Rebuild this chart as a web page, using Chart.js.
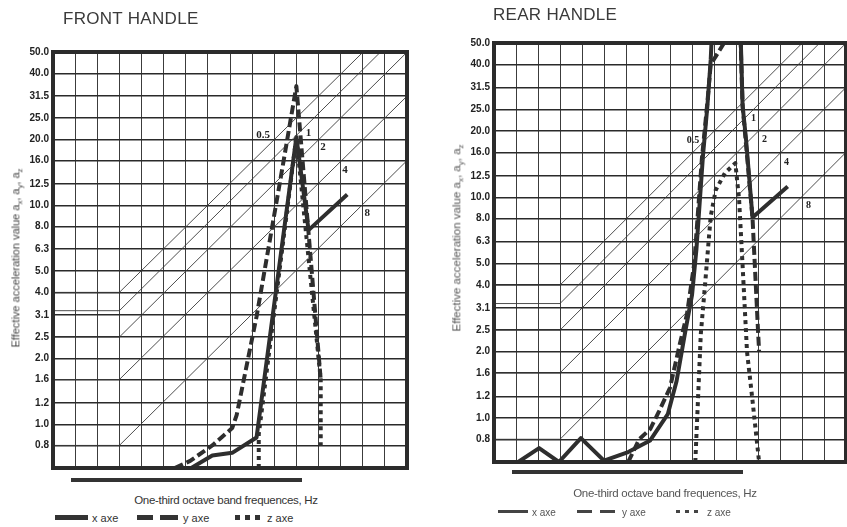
<!DOCTYPE html>
<html><head><meta charset="utf-8">
<script src="https://cdn.jsdelivr.net/npm/chart.js@4.4.0/dist/chart.umd.min.js"></script>
<style>
body{margin:0;background:#fff;}
#wrap{position:relative;width:847px;height:527px;overflow:hidden;font-family:"Liberation Sans",Arial,sans-serif;}
.abs{position:absolute;white-space:nowrap;}
.title{font-size:17px;color:#3a3a3a;letter-spacing:0.3px;}
.ytitle{transform:translate(-50%,-50%) rotate(-90deg);color:#444;}
.xtitle{transform:translate(-50%,-50%);color:#333;}
.bar{background:#333;}
.leg{font-size:11px;color:#333;transform:translateY(-50%);}
sub{font-size:70%;}
</style></head><body>
<div id="wrap">
  <canvas id="front" width="420" height="478" style="position:absolute;left:0;top:0"></canvas>
  <canvas id="rear" width="407" height="472" style="position:absolute;left:440px;top:0"></canvas>

  <div class="abs title" style="left:63px;top:9px;">FRONT HANDLE</div>
  <div class="abs title" style="left:493px;top:5px;">REAR HANDLE</div>

  <div class="abs ytitle" style="left:17px;top:258px;font-size:11px;">Effective acceleration value a<sub>x</sub>, a<sub>y</sub>, a<sub>z</sub></div>
  <div class="abs ytitle" style="left:458px;top:238px;font-size:11.5px;color:#555;">Effective acceleration value a<sub>x</sub>, a<sub>y</sub>, a<sub>z</sub></div>

  <div class="abs bar" style="left:71px;top:478px;width:231px;height:4px;"></div>
  <div class="abs bar" style="left:512px;top:470px;width:231px;height:4px;"></div>

  <div class="abs xtitle" style="left:226px;top:500px;font-size:11.5px;letter-spacing:-0.3px;">One-third octave band frequences, Hz</div>
  <div class="abs xtitle" style="left:665px;top:493px;font-size:11.5px;letter-spacing:-0.3px;color:#555;">One-third octave band frequences, Hz</div>

  <div class="abs bar" style="left:55px;top:515px;width:33px;height:5px;"></div>
  <div class="abs leg" style="left:92px;top:518px;">x axe</div>
  <div class="abs bar" style="left:137px;top:515px;width:16px;height:5px;"></div>
  <div class="abs bar" style="left:160px;top:515px;width:18px;height:5px;"></div>
  <div class="abs leg" style="left:183px;top:518px;">y axe</div>
  <div class="abs bar" style="left:235px;top:515px;width:5px;height:5px;"></div>
  <div class="abs bar" style="left:245px;top:515px;width:5px;height:5px;"></div>
  <div class="abs bar" style="left:255px;top:515px;width:5px;height:5px;"></div>
  <div class="abs leg" style="left:267px;top:518px;">z axe</div>

  <div class="abs bar" style="left:498px;top:510px;width:30px;height:3px;background:#444"></div>
  <div class="abs leg" style="left:532px;top:512px;font-size:10px;color:#555;">x axe</div>
  <div class="abs bar" style="left:577px;top:510px;width:15px;height:3px;background:#444"></div>
  <div class="abs bar" style="left:600px;top:510px;width:15px;height:3px;background:#444"></div>
  <div class="abs leg" style="left:622px;top:512px;font-size:10px;color:#555;">y axe</div>
  <div class="abs bar" style="left:676px;top:510px;width:4px;height:3px;background:#444"></div>
  <div class="abs bar" style="left:685px;top:510px;width:4px;height:3px;background:#444"></div>
  <div class="abs bar" style="left:694px;top:510px;width:4px;height:3px;background:#444"></div>
  <div class="abs leg" style="left:707px;top:512px;font-size:10px;color:#555;">z axe</div>
</div>
<script>
// ---------- axes ----------
const bandMin = 0, bandMax = 16;          // one-third octave band index range
const yMin = 0.631, yMax = 50.1;
const yTickValues = [0.8, 1.0, 1.25, 1.6, 2.0, 2.5, 3.15, 4.0, 5.0, 6.3, 8.0, 10, 12.5, 16, 20, 25, 31.5, 40, 50];
const yTickLabels = ["0.8","1.0","1.2","1.6","2.0","2.5","3.1","4.0","5.0","6.3","8.0","10.0","12.5","16.0","20.0","25.0","31.5","40.0","50.0"];

// ---------- reference lines ----------
const diagNames       = ["0.5", "1", "2", "4", "8"];
const diagStartBand   = 3;
const diagStartValues = [4.0, 3.3, 2.5, 1.6, 0.8];
const diagEndValues   = [79, 66, 50, 31.5, 16];   // value at last band

const frontLabelBands  = [9.5, 11.55, 12.2, 13.2, 14.2];
const frontLabelValues = [20.9, 21.4, 18.5, 14.4, 9.2];
const rearLabelBands   = [9.05, 11.8, 12.3, 13.3, 14.3];
const rearLabelValues  = [18.2, 22.9, 18.4, 14.4, 9.2];

// ---------- FRONT HANDLE ----------
const frontXBands  = [6.25, 7.2, 8.1, 9.2, 11.0, 11.55, 13.3];
const frontXValues = [0.631, 0.72, 0.74, 0.87, 20.5, 7.7, 11.2];
const frontYBands  = [5.5, 6.2, 7.2, 8.1, 8.3, 9.2, 10.3, 11.0, 12.1];
const frontYValues = [0.631, 0.68, 0.8, 0.96, 1.1, 3.1, 13.5, 35, 1.6];
const frontZBands  = [9.3, 9.3, 11.0, 12.1, 12.1];
const frontZValues = [0.631, 0.9, 20.5, 1.6, 0.8];

// ---------- REAR HANDLE ----------
const rearXBands  = [1.1, 2.05, 2.95, 3.95, 5.0, 6.1, 7.1, 7.9, 8.3, 8.7, 9.0, 9.2, 9.5, 9.7, 9.85, 10.0, 11.15, 11.3, 11.45, 11.6, 11.75, 13.35];
const rearXValues = [0.631, 0.73, 0.631, 0.81, 0.64, 0.70, 0.79, 1.04, 1.47, 2.48, 3.6, 5.8, 15.5, 26, 42, 90, 90, 26, 18.6, 12.3, 8.1, 11.2];
const rearYBands  = [6.1, 6.6, 7.1, 7.5, 8.0, 8.45, 8.77, 9.1, 9.45, 9.7, 9.85, 10.45, 10.7, 11.15, 11.3, 11.75, 12.0, 12.05];
const rearYValues = [0.631, 0.8, 0.89, 1.07, 1.37, 2.17, 2.95, 5.0, 15, 27, 40, 50, 80, 80, 26, 8.1, 2.5, 2.0];
const rearZBands  = [9.15, 9.4, 9.6, 9.85, 10.08, 10.5, 10.97, 11.14, 11.3, 11.5, 11.75, 12.05];
const rearZValues = [0.631, 2.4, 4.1, 8.2, 10.8, 12.9, 14.3, 9.8, 4.9, 2.0, 1.2, 0.631];

const pts = (bands, vals) => bands.map((b, i) => ({x: b, y: vals[i]}));

function diagDatasets(color) {
  return diagStartValues.map((v, i) => ({
    label: 'v' + diagNames[i],
    data: [{x: bandMin, y: v}, {x: diagStartBand, y: v}, {x: bandMax, y: diagEndValues[i]}],
    borderColor: color, borderWidth: 0.9, pointRadius: 0, tension: 0
  }));
}

const framePlugin = {
  id: 'frame',
  afterDatasetsDraw(chart, args, o) {
    const {ctx, chartArea: a, scales} = chart;
    ctx.save();
    ctx.fillStyle = o.labelColor;
    ctx.font = o.labelFont;
    ctx.textAlign = 'center';
    ctx.textBaseline = 'middle';
    diagNames.forEach((t, i) => {
      ctx.fillText(t, scales.x.getPixelForValue(o.bands[i]), scales.y.getPixelForValue(o.values[i]));
    });
    ctx.strokeStyle = '#2b2b2b';
    ctx.lineWidth = 4;
    ctx.strokeRect(a.left, a.top, a.right - a.left, a.bottom - a.top);
    ctx.restore();
  }
};

function makeChart(id, s, cfg) {
  const series = [
    {label: 'x axe', data: pts(s.xb, s.xv), borderColor: '#2e2e2e', borderWidth: 4, pointRadius: 0, tension: 0, borderJoinStyle: 'round'},
    {label: 'y axe', data: pts(s.yb, s.yv), borderColor: '#2e2e2e', borderWidth: 4, pointRadius: 0, tension: 0, borderDash: [9, 4], borderJoinStyle: 'round'},
    {label: 'z axe', data: pts(s.zb, s.zv), borderColor: '#2e2e2e', borderWidth: 4, pointRadius: 0, tension: 0, borderDash: [4, 4], borderJoinStyle: 'round'}
  ];
  return new Chart(document.getElementById(id), {
    type: 'line',
    data: {datasets: diagDatasets('#3a3a3a').concat(series)},
    options: {
      responsive: false, animation: false,
      layout: {padding: cfg.padding},
      plugins: {
        legend: {display: false}, tooltip: {enabled: false},
        frame: {labels: diagNames, bands: cfg.labelBands, values: cfg.labelValues, labelFont: cfg.labelFont, labelColor: '#222'}
      },
      scales: {
        x: {
          type: 'linear', min: bandMin, max: bandMax,
          ticks: {display: false, stepSize: 1},
          grid: {color: '#3c3c3c', lineWidth: 1, drawTicks: false},
          border: {display: false},
          afterFit: sc => { sc.height = 0; }
        },
        y: {
          type: 'logarithmic', min: yMin, max: yMax, bounds: 'data',
          afterBuildTicks: sc => {
            sc.min = yMin; sc.max = yMax;
            sc.ticks = yTickValues.map(v => ({value: v}));
          },
          ticks: {
            autoSkip: false, padding: 4, color: '#222',
            font: {family: '"Liberation Sans", Arial, sans-serif', size: 10, weight: 'bold'},
            callback: (v, i) => yTickLabels[i]
          },
          grid: {color: '#2a2a2a', lineWidth: 1.4, drawTicks: false},
          border: {display: false},
          afterFit: sc => { sc.width = cfg.yWidth; }
        }
      }
    },
    plugins: [framePlugin]
  });
}

makeChart('front',
  {xb: frontXBands, xv: frontXValues, yb: frontYBands, yv: frontYValues, zb: frontZBands, zv: frontZValues},
  {padding: {left: 0, top: 52, right: 13, bottom: 8}, yWidth: 53,
   labelBands: frontLabelBands, labelValues: frontLabelValues, labelFont: 'bold 11px "Liberation Serif", serif'});

makeChart('rear',
  {xb: rearXBands, xv: rearXValues, yb: rearYBands, yv: rearYValues, zb: rearZBands, zv: rearZValues},
  {padding: {left: 0, top: 43, right: 1, bottom: 8}, yWidth: 54,
   labelBands: rearLabelBands, labelValues: rearLabelValues, labelFont: 'bold 10px "Liberation Serif", serif'});
</script>
</body></html>
